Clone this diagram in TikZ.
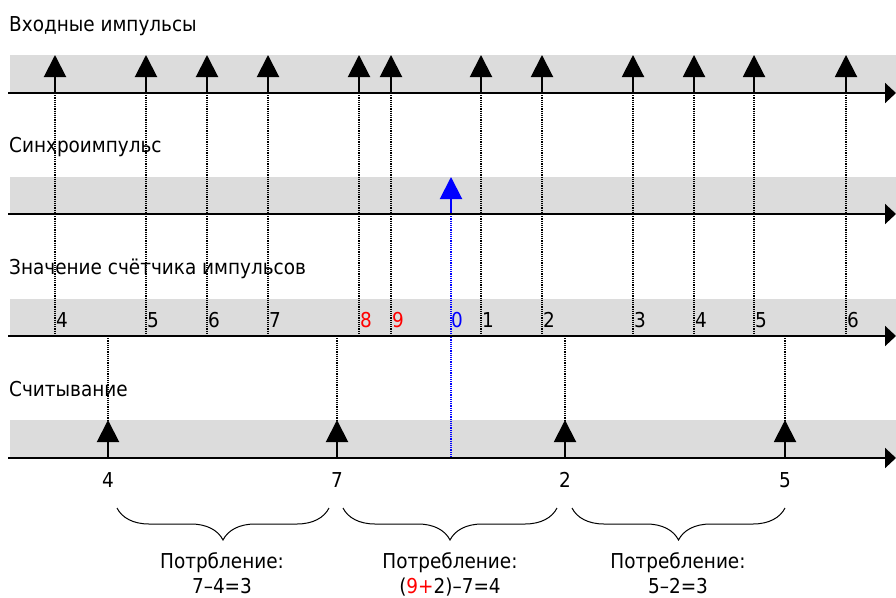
\documentclass[tikz,border=0pt]{standalone}
\usepackage{fontspec}
\setmainfont{DejaVu Sans Condensed}
\usetikzlibrary{arrows.meta,decorations.pathreplacing}
\definecolor{bandgray}{HTML}{DCDCDC}
\definecolor{syncblue}{HTML}{0000FF}
\definecolor{overflow}{HTML}{FF0000}

\begin{document}
\begin{tikzpicture}[x=1pt,y=-1pt,
  lbl/.style={font=\fontsize{20.5}{23}\selectfont, inner sep=0pt},
  title/.style={lbl, anchor=base west},
  digit/.style={lbl, anchor=base west},
  sumline/.style={lbl, anchor=base, text depth=0pt},
  axis/.style={line width=2pt, -{Triangle[length=11pt,width=20pt]}},
  pulse/.style={line width=2pt, -{Triangle[length=22pt,width=22pt]}},
  guide/.style={line width=1.2pt, dash pattern=on 1.2pt off 1pt},
  curly/.style={decorate, decoration={brace, mirror, amplitude=32pt}, line width=1pt},
]
\useasboundingbox (0,0) rectangle (896,597);

% grey bands behind the four time axes
\foreach \top/\ax in {55/93, 177/214, 299/336, 420/458}
  \fill[bandgray] (10,\top) rectangle (896,\ax);

% row titles
\node[title] (t1) at (9,31)  {Входные импульсы};
\node[title] (t2) at (9,152) {Синхроимпульс};
\node[title] (t3) at (9,274) {Значение счётчика импульсов};
\node[title] (t4) at (9,396) {Считывание};

% input pulses with guides down to the counter axis, and counter values
\foreach \x/\v/\c [count=\i] in {55/4/black, 146/5/black, 207/6/black, 268/7/black,
    359/8/overflow, 391/9/overflow, 481/1/black, 542/2/black, 633/3/black,
    694/4/black, 754/5/black, 846/6/black} {
  \coordinate (in\i) at (\x,93);
  \coordinate (tip\i) at (\x,55);
  \coordinate (cnt\i) at (\x,336);
  \draw[guide] (in\i) -- (cnt\i);
  \draw[pulse] (in\i) -- (tip\i);
  \node[digit, text=\c] (val\i) at (\x+1,327) {\v};
}

% synchronisation pulse and its guide down to the read axis
\coordinate (sy) at (451,214);
\coordinate (sytip) at (451,177);
\coordinate (syend) at (451,458);
\draw[guide, syncblue] (sy) -- (syend);
\draw[pulse, syncblue] (sy) -- (sytip);
\node[digit, text=syncblue] (val0) at (451,327) {0};

% read pulses, guides up to the counter axis, and read values
\foreach \x/\v [count=\i] in {108/4, 337/7, 565/2, 785/5} {
  \coordinate (rd\i) at (\x,458);
  \coordinate (rdtip\i) at (\x,420);
  \coordinate (rdtop\i) at (\x,336);
  \draw[guide] (rdtop\i) -- (rdtip\i);
  \draw[pulse] (rd\i) -- (rdtip\i);
  \node[lbl, anchor=base] (rv\i) at (\x,487) {\v};
}

% time axes
\foreach \y [count=\i] in {93, 214, 336, 458} {
  \coordinate (ax\i) at (8,\y);
  \coordinate (axend\i) at (896,\y);
  \draw[axis] (ax\i) -- (axend\i);
}

% consumption between consecutive reads
\coordinate (b1l) at (117,508); \coordinate (b1r) at (329,508);
\coordinate (b2l) at (343,508); \coordinate (b2r) at (557,508);
\coordinate (b3l) at (572,508); \coordinate (b3r) at (785,508);
\draw[curly] (b1l) -- (b1r);
\draw[curly] (b2l) -- (b2r);
\draw[curly] (b3l) -- (b3r);

\node[lbl, anchor=base] (c1a) at (222,568) {Потрбление:};
\node[sumline] (c1b) at (222,593) {7–4=3};
\node[lbl, anchor=base] (c2a) at (450,568) {Потребление:};
\node[sumline] (c2b) at (450,593) {(\textcolor{overflow}{9+}2)–7=4};
\node[lbl, anchor=base] (c3a) at (678,568) {Потребление:};
\node[sumline] (c3b) at (678,593) {5–2=3};
\end{tikzpicture}
\end{document}
